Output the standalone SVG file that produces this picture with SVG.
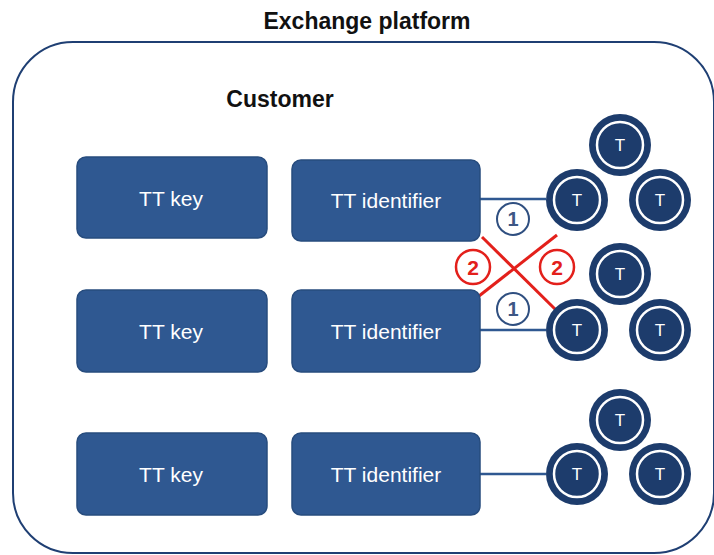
<svg xmlns="http://www.w3.org/2000/svg" width="714" height="555" viewBox="0 0 714 555">
  <defs>
    <style>
      .title { font-family: "Liberation Sans", Arial, sans-serif; font-weight: bold; font-size: 23px; fill: #111; text-anchor: middle; }
      .box { fill: #2f5891; stroke: #274c7e; stroke-width: 1.5; }
      .box-label { font-family: "Liberation Sans", Arial, sans-serif; font-size: 21px; fill: #ffffff; text-anchor: middle; }
      .token { fill: #1d3c6c; }
      .ring { fill: none; stroke: #ffffff; stroke-width: 2.5; }
      .token-label { font-family: "Liberation Sans", Arial, sans-serif; font-size: 17px; fill: #ffffff; text-anchor: middle; }
      .link { stroke: #2f5891; stroke-width: 2.5; fill: none; }
      .cross { stroke: #e3201b; stroke-width: 3; fill: none; }
      .badge1 { fill: #ffffff; stroke: #2f4f80; stroke-width: 2; }
      .badge1-label { font-family: "Liberation Sans", Arial, sans-serif; font-weight: bold; font-size: 20px; fill: #3d5785; text-anchor: middle; }
      .badge2 { fill: #ffffff; stroke: #e3201b; stroke-width: 2.5; }
      .badge2-label { font-family: "Liberation Sans", Arial, sans-serif; font-weight: bold; font-size: 21px; fill: #e3201b; text-anchor: middle; }
    </style>
    <g id="tok">
      <circle class="token" r="31"/>
      <circle class="ring" r="23"/>
      <text class="token-label" y="6">T</text>
    </g>
  </defs>

  <rect width="714" height="555" fill="#ffffff"/>

  <!-- platform boundary -->
  <g id="platform">
    <rect x="13" y="42" width="701" height="511" rx="60" ry="60" fill="none" stroke="#1f3f73" stroke-width="2"/>
    <text class="title" x="367" y="29">Exchange platform</text>
    <text class="title" x="280" y="107">Customer</text>
  </g>

  <!-- connectors -->
  <g id="connectors">
    <line class="link" x1="480" y1="199" x2="546" y2="199"/>
    <line class="link" x1="480" y1="330" x2="546" y2="330"/>
    <line class="link" x1="480" y1="474" x2="546" y2="474"/>
    <line class="cross" x1="482" y1="237" x2="558" y2="312"/>
    <line class="cross" x1="557" y1="235" x2="479" y2="296"/>
  </g>

  <!-- key boxes -->
  <g id="key1"><rect class="box" x="77" y="157" width="190" height="81" rx="9"/><text class="box-label" x="171" y="206">TT key</text></g>
  <g id="key2"><rect class="box" x="77" y="290" width="190" height="82" rx="9"/><text class="box-label" x="171" y="339">TT key</text></g>
  <g id="key3"><rect class="box" x="77" y="433" width="190" height="82" rx="9"/><text class="box-label" x="171" y="482">TT key</text></g>

  <!-- identifier boxes -->
  <g id="ident1"><rect class="box" x="292" y="160" width="188" height="81" rx="9"/><text class="box-label" x="386" y="208">TT identifier</text></g>
  <g id="ident2"><rect class="box" x="292" y="290" width="188" height="82" rx="9"/><text class="box-label" x="386" y="339">TT identifier</text></g>
  <g id="ident3"><rect class="box" x="292" y="433" width="188" height="82" rx="9"/><text class="box-label" x="386" y="482">TT identifier</text></g>

  <!-- token groups -->
  <g id="tokens1">
    <use href="#tok" x="620" y="145"/>
    <use href="#tok" x="577" y="200"/>
    <use href="#tok" x="660" y="200"/>
  </g>
  <g id="tokens2">
    <use href="#tok" x="620" y="274"/>
    <use href="#tok" x="577" y="330"/>
    <use href="#tok" x="660" y="330"/>
  </g>
  <g id="tokens3">
    <use href="#tok" x="620" y="420"/>
    <use href="#tok" x="577" y="474"/>
    <use href="#tok" x="660" y="474"/>
  </g>

  <!-- step badges -->
  <g id="step1a"><circle class="badge1" cx="513" cy="219" r="16"/><text class="badge1-label" x="513" y="226">1</text></g>
  <g id="step1b"><circle class="badge1" cx="513" cy="309" r="16"/><text class="badge1-label" x="513" y="316">1</text></g>
  <g id="step2a"><circle class="badge2" cx="473" cy="267" r="17"/><text class="badge2-label" x="473" y="275">2</text></g>
  <g id="step2b"><circle class="badge2" cx="557" cy="267" r="17"/><text class="badge2-label" x="557" y="275">2</text></g>
</svg>
